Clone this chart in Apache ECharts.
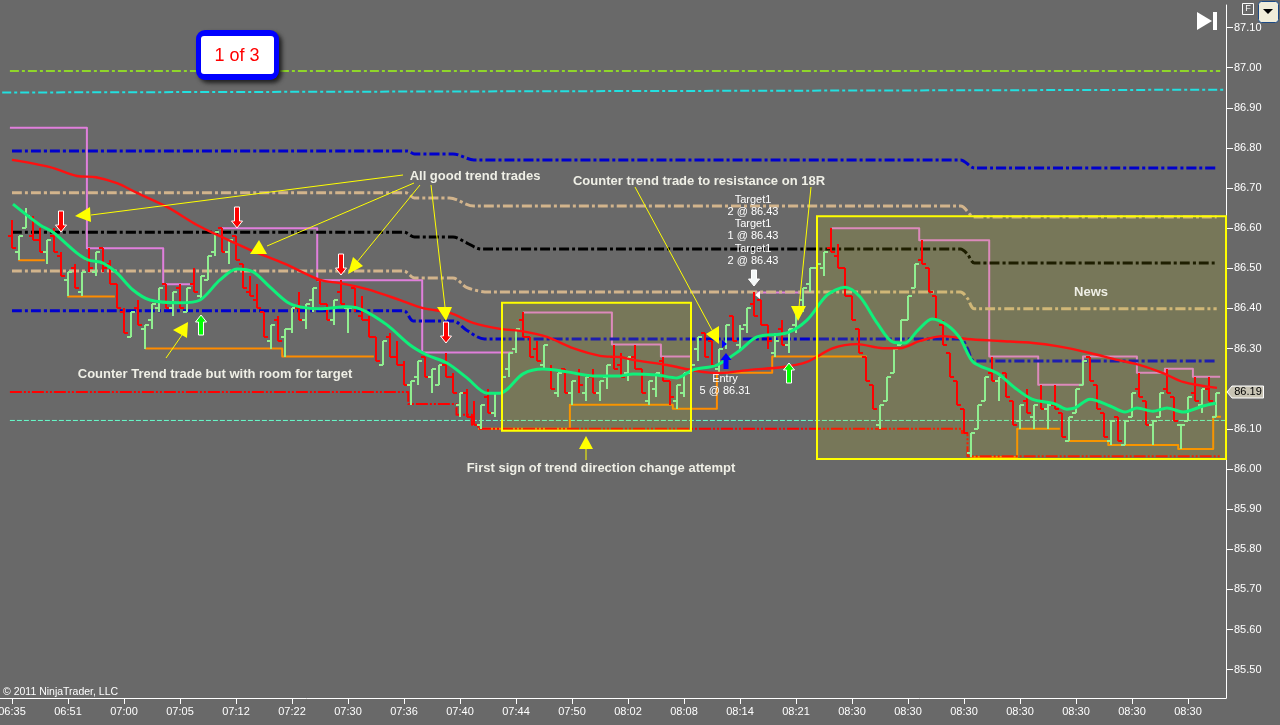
<!DOCTYPE html>
<html><head><meta charset="utf-8">
<style>html,body{margin:0;padding:0;background:#696969;overflow:hidden}#c{width:1280px;height:725px}</style>
<script src="https://cdn.jsdelivr.net/npm/echarts@6/dist/echarts.min.js"></script>
</head><body><div id="c"></div>
<script>
const timeLabels=['06:35','06:51','07:00','07:05','07:12','07:22','07:30','07:36','07:40','07:44','07:50','08:02','08:08','08:14','08:21','08:30','08:30','08:30','08:30','08:30','08:30','08:30'];
const priceTicks=[85.5,85.6,85.7,85.8,85.9,86.0,86.1,86.3,86.4,86.5,86.6,86.7,86.8,86.9,87.0,87.1];
const opens=[86.58,86.54,86.60,86.58,86.57,86.54,86.58,86.53,86.47,86.50,
86.44,86.52,86.49,86.55,86.51,86.46,86.39,86.33,86.40,86.35,
86.37,86.40,86.46,86.40,86.45,86.39,86.46,86.43,86.47,86.54,
86.60,86.54,86.58,86.51,86.44,86.42,86.39,86.32,86.37,86.33,
86.35,86.40,86.37,86.42,86.47,86.41,86.37,86.44,86.40,86.45,
86.38,86.37,86.33,86.26,86.33,86.28,86.26,86.21,86.23,86.28,
86.23,86.21,86.26,86.23,86.16,86.19,86.13,86.11,86.18,86.14,
86.19,86.25,86.30,86.37,86.33,86.30,86.26,86.25,86.19,86.25,
86.19,86.24,86.19,86.23,86.19,86.23,86.28,86.26,86.24,86.28,
86.25,86.17,86.20,86.27,86.22,86.17,86.19,86.24,86.30,86.34,
86.32,86.25,86.31,86.38,86.31,86.36,86.41,86.42,86.36,86.29,
86.35,86.31,86.36,86.42,86.46,86.50,86.50,86.55,86.53,86.50,
86.43,86.35,86.28,86.21,86.11,86.17,86.24,86.31,86.37,86.45,
86.52,86.50,86.43,86.36,86.29,86.22,86.15,86.04,86.10,86.17,
86.24,86.22,86.24,86.17,86.12,86.17,86.13,86.17,86.15,86.16,
86.14,86.07,86.14,86.21,86.28,86.21,86.14,86.07,86.13,86.06,
86.13,86.20,86.17,86.11,86.13,86.20,86.18,86.11,86.12,86.19,
86.16,86.20,86.13];
const highs=[86.62,86.58,86.65,86.63,86.60,86.57,86.60,86.54,86.49,86.51,
86.49,86.55,86.54,86.55,86.52,86.46,86.40,86.39,86.42,86.36,
86.41,86.45,86.46,86.44,86.46,86.45,86.50,86.48,86.53,86.59,
86.60,86.57,86.58,86.51,86.48,86.46,86.39,86.36,86.38,86.35,
86.40,86.44,86.41,86.45,86.47,86.41,86.42,86.47,86.40,86.45,
86.43,86.38,86.33,86.32,86.34,86.32,86.27,86.22,86.27,86.28,
86.25,86.26,86.29,86.24,86.19,86.20,86.17,86.16,86.20,86.19,
86.25,86.29,86.35,86.39,86.33,86.32,86.31,86.26,86.24,86.25,
86.22,86.25,86.23,86.25,86.22,86.26,86.31,86.29,86.28,86.31,
86.25,86.22,86.24,86.28,86.22,86.21,86.24,86.26,86.33,86.34,
86.32,86.30,86.36,86.38,86.36,86.40,86.44,86.42,86.36,86.34,
86.37,86.35,86.40,86.45,86.50,86.52,86.54,86.60,86.56,86.50,
86.43,86.35,86.28,86.21,86.16,86.23,86.30,86.37,86.43,86.51,
86.57,86.50,86.43,86.37,86.29,86.22,86.15,86.09,86.16,86.23,
86.28,86.23,86.24,86.17,86.16,86.20,86.16,86.21,86.17,86.21,
86.14,86.13,86.20,86.27,86.28,86.21,86.14,86.12,86.13,86.12,
86.19,86.24,86.17,86.12,86.19,86.25,86.18,86.11,86.18,86.23,
86.20,86.23,86.19];
const lows=[86.55,86.52,86.60,86.57,86.54,86.51,86.54,86.48,86.43,86.45,
86.43,86.49,86.48,86.49,86.46,86.40,86.34,86.33,86.36,86.30,
86.35,86.39,86.40,86.38,86.40,86.39,86.44,86.42,86.47,86.53,
86.54,86.51,86.52,86.45,86.43,86.40,86.33,86.30,86.32,86.28,
86.34,86.37,86.35,86.39,86.41,86.37,86.36,86.41,86.34,86.39,
86.37,86.33,86.27,86.26,86.28,86.26,86.21,86.16,86.21,86.23,
86.19,86.21,86.23,86.19,86.13,86.13,86.11,86.10,86.14,86.13,
86.19,86.23,86.29,86.33,86.28,86.27,86.25,86.20,86.18,86.19,
86.16,86.19,86.17,86.19,86.17,86.20,86.25,86.23,86.22,86.25,
86.19,86.16,86.18,86.22,86.16,86.15,86.18,86.21,86.27,86.28,
86.26,86.24,86.30,86.32,86.30,86.34,86.38,86.36,86.30,86.28,
86.31,86.29,86.34,86.39,86.44,86.46,86.48,86.54,86.50,86.43,
86.37,86.29,86.22,86.15,86.10,86.17,86.24,86.31,86.37,86.45,
86.51,86.44,86.37,86.31,86.23,86.16,86.09,86.03,86.10,86.17,
86.22,86.17,86.18,86.11,86.10,86.14,86.10,86.15,86.10,86.15,
86.08,86.07,86.14,86.21,86.22,86.15,86.08,86.06,86.07,86.06,
86.13,86.18,86.11,86.06,86.13,86.19,86.12,86.05,86.12,86.17,
86.14,86.17,86.13];
const closes=[86.55,86.58,86.63,86.57,86.54,86.57,86.54,86.48,86.49,86.45,
86.49,86.50,86.54,86.50,86.46,86.40,86.34,86.39,86.36,86.36,
86.41,86.45,86.40,86.44,86.40,86.45,86.44,86.48,86.53,86.59,
86.54,86.57,86.52,86.45,86.43,86.40,86.33,86.36,86.32,86.35,
86.40,86.37,86.41,86.45,86.41,86.37,86.42,86.41,86.40,86.40,
86.37,86.33,86.27,86.32,86.28,86.26,86.21,86.22,86.27,86.23,
86.25,86.26,86.23,86.19,86.19,86.13,86.11,86.16,86.14,86.19,
86.23,86.29,86.35,86.33,86.28,86.27,86.31,86.20,86.24,86.19,
86.22,86.21,86.23,86.19,86.22,86.26,86.25,86.23,86.28,86.25,
86.19,86.22,86.24,86.22,86.18,86.21,86.24,86.26,86.33,86.28,
86.26,86.30,86.36,86.32,86.35,86.40,86.38,86.36,86.32,86.32,
86.31,86.35,86.40,86.45,86.50,86.51,86.54,86.54,86.50,86.43,
86.37,86.29,86.22,86.15,86.16,86.23,86.30,86.37,86.43,86.51,
86.51,86.44,86.37,86.31,86.23,86.16,86.09,86.09,86.16,86.23,
86.22,86.23,86.18,86.11,86.16,86.14,86.16,86.15,86.16,86.15,
86.08,86.13,86.20,86.27,86.22,86.15,86.08,86.12,86.07,86.12,
86.19,86.18,86.11,86.12,86.19,86.19,86.12,86.11,86.18,86.17,
86.20,86.17,86.19];
const fastMaX=[0.14,4,5.86,9.29,10.86,13,15,17.29,19.71,24,26.86,29.71,32.14,34.43,36.86,39.29,41.14,44,47.86,50.14,53.57,56.86,59.29,62.14,65,67.86,69.71,73,75.86,79.29,83,86.86,88.71,92.14,95,97.29,100.71,104,106.43,110.71,113.57,116.43,119,121.14,123.57,125.86,127.57,129.43,131.43,133.57,135.43,137.29,140.71,143.29,145.71,149,150.71,151.86,154,156.86,159,160.71,163,165,167.29,170.14,172];
const fastMaY=[86.660,86.608,86.590,86.538,86.521,86.513,86.488,86.446,86.421,86.414,86.421,86.471,86.498,86.491,86.453,86.416,86.404,86.399,86.404,86.396,86.359,86.309,86.284,86.264,86.227,86.189,86.189,86.237,86.249,86.242,86.232,86.232,86.237,86.234,86.227,86.247,86.259,86.296,86.329,86.339,86.371,86.433,86.453,86.429,86.364,86.316,86.314,86.346,86.374,86.359,86.326,86.267,86.239,86.202,86.174,86.162,86.149,86.152,86.174,86.157,86.142,86.152,86.144,86.152,86.142,86.157,86.164];
const slowMaX=[0,5.43,9.29,12,15,17.86,22.14,26.43,29.71,34,39,44,46.86,50.71,55.43,58.71,62.57,65.86,69.71,72.57,76.43,80.14,84,86.86,88.71,93.57,97.86,101.14,105.43,110.14,113.57,117.29,120.71,124.43,126.86,129.71,133,136.43,141.14,145.86,149.29,154,157.86,161.14,164.43,167.29,172.14];
const slowMaY=[86.770,86.752,86.730,86.727,86.712,86.688,86.653,86.608,86.580,86.546,86.511,86.471,86.463,86.448,86.421,86.401,86.389,86.364,86.349,86.344,86.329,86.301,86.282,86.279,86.272,86.259,86.244,86.239,86.247,86.254,86.267,86.301,86.311,86.301,86.301,86.319,86.331,86.324,86.319,86.314,86.306,86.289,86.272,86.259,86.239,86.217,86.202];
const pinkX=[-0.3,10.7,10.7,21.6,21.6,25.9,null,29.7,43.6,43.6,58.6,58.6,71.6,null,73,85.7,85.7,92.7,92.7,96.9,null,106.1,112.6,null,117.1,129.6,129.6,139.6,139.6,146.6,146.6,153,153,160.7,160.7,164.7,164.7,168.7,168.7,172.6];
const pinkY=[86.85,86.85,86.55,86.55,86.46,86.46,null,86.60,86.60,86.47,86.47,86.29,86.29,null,86.39,86.39,86.31,86.31,86.28,86.28,null,86.44,86.44,null,86.60,86.60,86.57,86.57,86.28,86.28,86.21,86.21,86.28,86.28,86.24,86.24,86.25,86.25,86.23,86.23];
const orangeX=[0.9,4.7,null,7.9,14.7,null,19,38.6,38.6,51.7,null,66.6,79.7,79.7,94.4,94.4,100.7,100.7,108.6,108.6,122.1,null,136.9,143.6,143.6,149.7,null,150.6,156.6,156.6,166.6,166.6,171.6,171.6,172.7];
const orangeY=[86.52,86.52,null,86.43,86.43,null,86.30,86.30,86.28,86.28,null,86.10,86.10,86.16,86.16,86.15,86.15,86.24,86.24,86.28,86.28,null,86.03,86.03,86.10,86.10,null,86.07,86.07,86.06,86.06,86.05,86.05,86.13,86.13];
const supportX=[-0.3,56.6,56.6,63.5,63.5,65.7,65.7,66.6,66.6,135.7,135.7,136.5,136.5,172.6];
const supportY=[86.192,86.192,86.162,86.162,86.135,86.135,86.11,86.11,86.10,86.10,86.09,86.09,86.032,86.032];
const r3X=[-0.3,172.6], r3Y=[86.9915,86.9915];
const r2X=[-1.4,173.4], r2Y=[86.938,86.945];
const pivotX=[-0.3,173.4], pivotY=[86.121,86.121];
const blueTopX=[0,56.5,57.5,63,66,135.5,137.5,172.1], blueTopY=[86.792,86.792,86.785,86.785,86.77,86.77,86.75,86.75];
const tanTopX=[0,56.3,57.5,62.5,66,135.5,137.5,172.1], tanTopY=[86.688,86.688,86.675,86.675,86.655,86.655,86.628,86.628];
const blackX=[0,56,57.5,63,65,67,135.5,136.5,137.5,172.1], blackY=[86.59,86.59,86.578,86.578,86.563,86.548,86.548,86.535,86.513,86.513];
const tanLowX=[0,56,57.5,63,65,68,135.5,136.5,137.5,172.1], tanLowY=[86.493,86.493,86.476,86.476,86.452,86.441,86.441,86.425,86.399,86.399];
const blueLowX=[0,56,57.3,63,65,67.5,135.5,136.5,137.5,172.1], blueLowY=[86.394,86.394,86.369,86.369,86.345,86.324,86.324,86.30,86.269,86.269];
const regionFrom=[70,115], regionTo=[97,173.43], regionLow=[86.095,86.025], regionHigh=[86.414,86.63];

const barRows=opens.map((o,i)=>[i,o,closes[i],lows[i],highs[i]]);
const zip=(xs,ys)=>xs.map((x,i)=>[x,ys[i]]);
const RED='#ff0000',GRN='#90ee90';
function lineS(xs,ys,color,width,type,z,smooth){return{type:'line',data:zip(xs,ys),symbol:'none',silent:true,z:z,animation:false,smooth:smooth||false,lineStyle:{color:color,width:width,type:type,cap:'butt',join:'round'}};}
const dd=[10,3,3,3];
const regionRows=regionFrom.map((f,i)=>[f,regionTo[i],regionLow[i],regionHigh[i]]);
function regionS(z,style){return{type:'custom',z:z,silent:true,animation:false,clip:false,data:regionRows,encode:{x:[0,1],y:[2,3]},
  renderItem:function(p,api){
   const a=api.coord([api.value(0),api.value(3)]),b=api.coord([api.value(1),api.value(2)]);
   return{type:'rect',shape:{x:a[0],y:a[1],width:b[0]-a[0],height:b[1]-a[1]},style:style};
  }};}
const series=[
 lineS(r3X,r3Y,'#8fd62a',2,[9,3,3,3],2),
 lineS(r2X,r2Y,'#22e0e0',2,[9,3,3,3],2),
 lineS(pivotX,pivotY,'#66ffcc',1,[5,2],2),
 lineS(orangeX,orangeY,'#ff8c00',2,'solid',2),
 lineS(pinkX,pinkY,'#e07fdc',2,'solid',2),
 lineS(supportX,supportY,RED,2,[12,2,2,2,2,2],3),
 lineS(tanTopX,tanTopY,'#d2b48c',3,dd,3,0.3),
 lineS(tanLowX,tanLowY,'#d2b48c',3,dd,3,0.3),
 lineS(blackX,blackY,'#000000',3,dd,3,0.3),
 lineS(blueTopX,blueTopY,'#0000cd',3,dd,3,0.3),
 lineS(blueLowX,blueLowY,'#0000cd',3,dd,3,0.3),
 regionS(3.5,{fill:'rgba(200,200,0,0.15)',stroke:null}),
 {type:'custom',z:4,silent:true,animation:false,clip:false,data:barRows,encode:{x:0,y:[1,2,3,4]},
  renderItem:function(p,api){
   const i=api.value(0),o=api.value(1),c=api.value(2),l=api.value(3),h=api.value(4);
   const x=Math.round(api.coord([i,o])[0]);
   const Y=v=>Math.round(api.coord([i,v])[1]);
   const col=c>=o?GRN:RED, st={stroke:col,lineWidth:2,fill:null};
   return{type:'group',children:[
    {type:'line',shape:{x1:x,y1:Y(h),x2:x,y2:Y(l)},style:st},
    {type:'line',shape:{x1:x-4,y1:Y(o),x2:x,y2:Y(o)},style:st},
    {type:'line',shape:{x1:x,y1:Y(c),x2:x+4,y2:Y(c)},style:st}]};
  }},
 lineS(slowMaX,slowMaY,'#ff1010',2.4,'solid',5,0.3),
 lineS(fastMaX,fastMaY,'#0ff07a',3,'solid',6,0.3),
 regionS(7,{fill:null,stroke:'#ffff00',lineWidth:2})
];
const Z=20, FF='"Liberation Sans",Arial,sans-serif';
const txt=(s,x,y,o)=>Object.assign({type:'text',z:Z,silent:true,x:x,y:y,style:Object.assign({text:s,fill:'#ffffff',font:'11px '+FF,textAlign:'center',textVerticalAlign:'middle'},o||{})},{});
const bold=(s,x,y)=>txt(s,x,y+1,{fill:'#efefe6',font:'bold 13px '+FF});
const poly=(pts,fill,stroke)=>({type:'polygon',z:Z,silent:true,shape:{points:pts},style:{fill:fill,stroke:stroke||null,lineWidth:stroke?1:0}});
const seg=(a,b,c,d)=>({type:'line',z:Z,silent:true,shape:{x1:a,y1:b,x2:c,y2:d},style:{stroke:'#ffff00',lineWidth:1}});
const down=(x,t,b,fill,stroke)=>poly([[x-2.5,t],[x+2.5,t],[x+2.5,b-7],[x+5.5,b-7],[x,b],[x-5.5,b-7],[x-2.5,b-7]],fill,stroke);
const up=(x,t,b,fill,stroke)=>poly([[x-2.5,b],[x+2.5,b],[x+2.5,t+7],[x+5.5,t+7],[x,t],[x-5.5,t+7],[x-2.5,t+7]],fill,stroke);
const Y='#ffff00';
const graphics=[
 seg(91,215,403,175),seg(267,246,414,183),seg(357,262,420,185),seg(445,307,431,185),
 seg(166,358,182,335),seg(635,187,712,330),seg(811,187,799,307),seg(586,449,586,460),
 poly([[75,216],[90,207],[91,222]],Y),poly([[250,254],[267,254],[259,240]],Y),
 poly([[348,274],[363,266],[353,257]],Y),poly([[437,307],[452,307],[446,321]],Y),
 poly([[173,330],[188,322],[187,338]],Y),poly([[706,334],[719,326],[719,344]],Y),
 poly([[791,306],[806,306],[798,321]],Y),poly([[579,449],[593,449],[586,436]],Y),
 down(61,211,232,RED,'#ffffff'),down(237,207,228,RED,'#ffffff'),down(341,254,275,RED,'#ffffff'),down(446,322,343,RED,'#ffffff'),
 up(201,315,335,'#00ff00','#ffffff'),up(789,363,383,'#00ff00','#ffffff'),
 up(726,353,369,'#0000ff'),down(754,270,286,'#f4f8f8','#ffffff'),
 poly([[755,295],[760,291],[760,299]],'#ffffff'),poly([[722,340],[727,344],[722,348]],'#0000ff'),
 bold('All good trend trades',475,175),bold('Counter trend trade to resistance on 18R',699,180),
 bold('Counter Trend trade but with room for target',215,373),bold('First sign of trend direction change attempt',601,467),bold('News',1091,291),
 txt('Target1',753,200),txt('2 @ 86.43',753,212),txt('Target1',753,224),txt('1 @ 86.43',753,236),txt('Target1',753,249),txt('2 @ 86.43',753,261),
 txt('Entry',725,379),txt('5 @ 86.31',725,391),
 txt('© 2011 NinjaTrader, LLC',3,692,{textAlign:'left',font:'10.5px '+FF}),
 {type:'rect',z:Z,silent:true,shape:{x:196,y:30,width:83,height:50,r:9},style:{fill:'#0000ff',shadowBlur:4,shadowOffsetX:3,shadowOffsetY:3,shadowColor:'#202020'}},
 {type:'rect',z:Z,silent:true,shape:{x:201,y:36,width:73,height:38,r:3},style:{fill:'#ffffff'}},
 txt('1 of 3',237,56,{fill:'#ff0000',font:'18px '+FF}),
 poly([[1197,12],[1212,21],[1197,30]],'#ffffff'),{type:'rect',z:Z,silent:true,shape:{x:1213,y:12,width:4,height:18},style:{fill:'#ffffff'}},
 {type:'rect',z:Z,silent:true,shape:{x:1242.5,y:3.5,width:11,height:11},style:{fill:'none',stroke:'#ffffff',lineWidth:1}},
 txt('F',1248,9,{font:'9px '+FF}),
 {type:'rect',z:Z,silent:true,shape:{x:1258.5,y:1.5,width:20,height:21,r:3},style:{fill:'#f1edd9',stroke:'#1c4a86',lineWidth:1}},
 poly([[1263,9],[1273,9],[1268,14]],'#000000'),
 poly([[1227,392],[1232,386],[1263.5,386],[1263.5,398],[1232,398]],'#c8c4b4','#ffffff'),
 txt('86.19',1248,392,{fill:'#000000'})
];
const chart=echarts.init(document.getElementById('c'),null,{renderer:'canvas',width:1280,height:725});
chart.setOption({
 backgroundColor:'#696969',animation:false,
 grid:{left:0,top:5,width:1226,height:693,containLabel:false,outerBoundsMode:'none'},
 xAxis:{type:'value',min:-12/7,max:1214/7,splitLine:{show:false},
  axisLine:{show:true,onZero:false,lineStyle:{color:'#ffffff',width:1}},
  axisTick:{show:true,customValues:timeLabels.map((_,i)=>i*8),length:6,lineStyle:{color:'#ffffff'}},
  axisLabel:{show:true,customValues:timeLabels.map((_,i)=>i*8),color:'#ffffff',fontSize:11,fontFamily:'Liberation Sans',margin:8,formatter:v=>timeLabels[Math.round(v/8)]}},
 yAxis:{type:'value',position:'right',min:85.4295,max:87.156,splitLine:{show:false},
  axisLine:{show:true,onZero:false,lineStyle:{color:'#ffffff',width:1}},
  axisTick:{show:true,customValues:priceTicks,length:7,lineStyle:{color:'#ffffff'}},
  axisLabel:{show:true,customValues:priceTicks,color:'#ffffff',fontSize:11,fontFamily:'Liberation Sans',margin:8,formatter:v=>v.toFixed(2)}},
 series:series,graphic:{elements:graphics}
});
</script></body></html>
